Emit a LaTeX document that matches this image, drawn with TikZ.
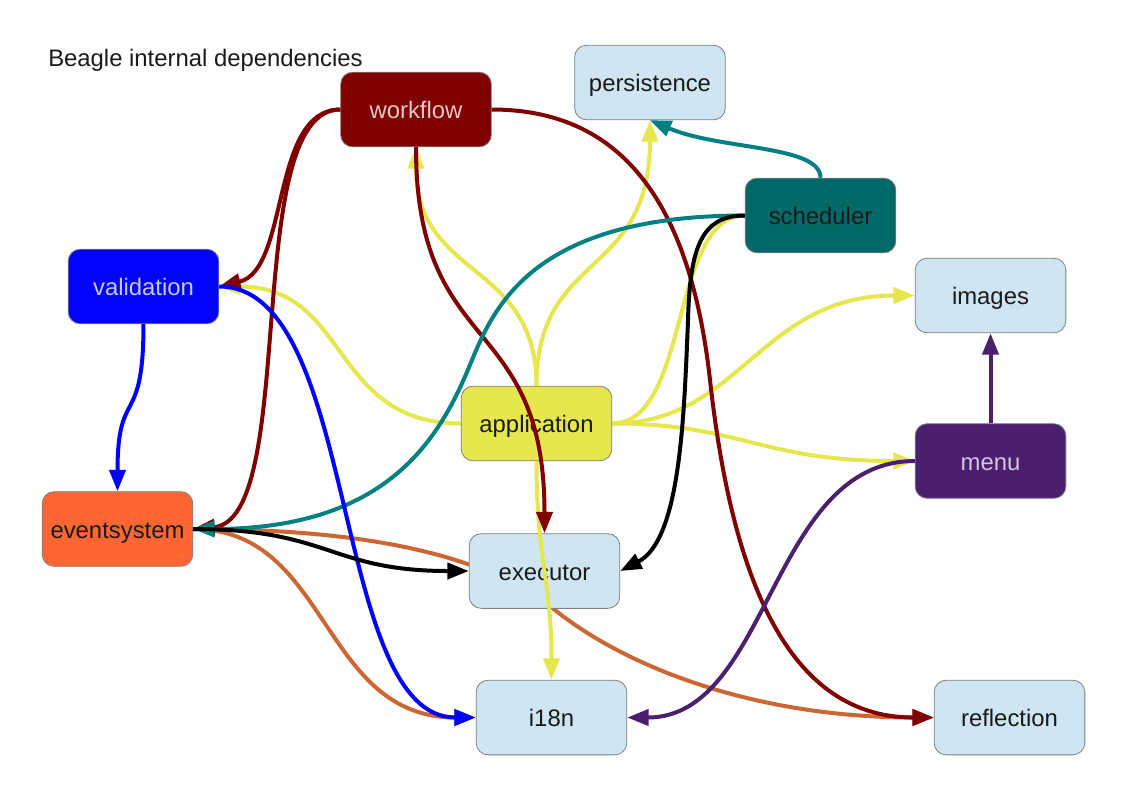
\documentclass[tikz,border=0pt]{standalone}
\usepackage{fontspec}
\setmainfont{Liberation Sans}
\usetikzlibrary{arrows.meta}
\definecolor{cDarkRed}{HTML}{800000}
\definecolor{cBlue}{HTML}{0000FF}
\definecolor{cOrange}{HTML}{FF6633}
\definecolor{cOrangeEdge}{HTML}{CC6633}
\definecolor{cTealNode}{HTML}{006866}
\definecolor{cTeal}{HTML}{008080}
\definecolor{cYellow}{HTML}{E6E64D}
\definecolor{cPurple}{HTML}{4B1E6E}
\definecolor{cLight}{HTML}{D0E5F2}
\definecolor{cBorder}{HTML}{808080}
\definecolor{cText}{HTML}{1A1A1A}
\definecolor{cTextRed}{HTML}{E0C8C8}
\definecolor{cTextBlue}{HTML}{C8C8F0}
\definecolor{cTextPurple}{HTML}{D4C4E4}
\begin{document}
\begin{tikzpicture}[x=0.75pt,y=-0.75pt,
  font=\fontsize{17.9}{21}\selectfont,
  box/.style={draw=cBorder, line width=0.6pt, rounded corners=9pt,
    minimum width=113pt, minimum height=56pt, inner sep=0pt, align=center, text=cText,
    text height=14.5pt, text depth=0.7pt},
  lightbox/.style={box, fill=cLight},
  edge/.style={line width=3pt},
  tip/.style={-{Triangle[length=16pt,width=12pt]}}
]
\useasboundingbox (0,0) rectangle (1123,794);
\fill[white] (0,0) rectangle (1123,794);

% free ends of the edge drawn behind executor
\coordinate (pEvE) at (193,529);
\coordinate (pRefW) at (934,717.5);

% edge drawn underneath the nodes
\draw[edge, cOrangeEdge, tip] (pEvE) .. controls (350,529) and (480,550) .. (555,610)
   .. controls (630,670) and (760,717.5) .. (pRefW);

% nodes
\node[anchor=base west, inner sep=0pt, text=cText] (title) at (48,66) {Beagle internal dependencies};
\node[lightbox] (persistence) at (650,82.5) {persistence};
\node[box, fill=cDarkRed, text=cTextRed] (workflow) at (416,109.5) {workflow};
\node[box, fill=cTealNode] (scheduler) at (820.5,215.5) {scheduler};
\node[box, fill=cBlue, text=cTextBlue] (validation) at (143.5,286.5) {validation};
\node[lightbox] (images) at (990.5,295.5) {images};
\node[box, fill=cYellow] (application) at (536.5,423.5) {application};
\node[box, fill=cPurple, text=cTextPurple] (menu) at (990.5,461) {menu};
\node[box, fill=cOrange] (eventsystem) at (117.5,529) {eventsystem};
\node[lightbox] (executor) at (544.5,571) {executor};
\node[lightbox] (i18n) at (551.5,717.5) {i18n};
\node[lightbox] (reflection) at (1009.5,717.5) {reflection};

% application (yellow)
\draw[edge, cYellow, tip] (application.north) .. controls (536.5,260) and (416,280) .. (workflow.south);
\draw[edge, cYellow, tip] (application.north) .. controls (536.5,250) and (650,280) .. (persistence.south);
\draw[edge, cYellow, tip] (application.west) .. controls (330,423.5) and (350,286.5) .. (validation.east);
\draw[edge, cYellow] (application.east) .. controls (690,423.5) and (670,215.5) .. (scheduler.west);
\draw[edge, cYellow, tip] (application.east) .. controls (740,423.5) and (760,295.5) .. (images.west);
\draw[edge, cYellow, tip] (application.east) .. controls (740,423.5) and (760,461) .. (menu.west);
\draw[edge, cYellow, tip] (application.south) .. controls (536.5,560) and (551.5,580) .. (i18n.north);

% eventsystem (orange)
\draw[edge, cOrangeEdge, tip] (eventsystem.east) .. controls (330,529) and (320,717.5) .. (i18n.west);

% workflow (dark red)
\draw[edge, cDarkRed, tip] (workflow.west) .. controls (270,109.5) and (290,270) .. (validation.east);
\draw[edge, cDarkRed, tip] (workflow.west) .. controls (240,109.5) and (300,520) .. (eventsystem.east);
\draw[edge, cDarkRed, tip] (workflow.south) .. controls (416,360) and (544.5,310) .. (executor.north);
\draw[edge, cDarkRed, tip] (workflow.east) .. controls (620,109.5) and (690,200) .. (710,380)
   .. controls (730,560) and (780,717.5) .. (reflection.west);

% scheduler (teal, black)
\draw[edge, cTeal, tip] (scheduler.north) .. controls (820.5,145) and (720,150) .. (persistence.south);
\draw[edge, cTeal, tip] (scheduler.west) .. controls (520,215.5) and (490,318) .. (467,372)
   .. controls (435,447) and (380,529) .. (eventsystem.east);
\draw[edge, black, tip] (scheduler.west) .. controls (700,215.5) and (690,250) .. (688,320)
   .. controls (684,420) and (680,540) .. (executor.east);

% validation (blue)
\draw[edge, cBlue, tip] (validation.south) .. controls (143.5,430) and (117.5,385) .. (eventsystem.north);
\draw[edge, cBlue, tip] (validation.east) .. controls (360,286.5) and (330,717.5) .. (i18n.west);

% eventsystem -> executor (black)
\draw[edge, black, tip] (eventsystem.east) .. controls (330,529) and (330,571) .. (executor.west);

% menu (purple)
\draw[edge, cPurple, tip] (menu.north) -- (images.south);
\draw[edge, cPurple, tip] (menu.west) .. controls (770,461) and (770,717.5) .. (i18n.east);
\end{tikzpicture}
\end{document}
